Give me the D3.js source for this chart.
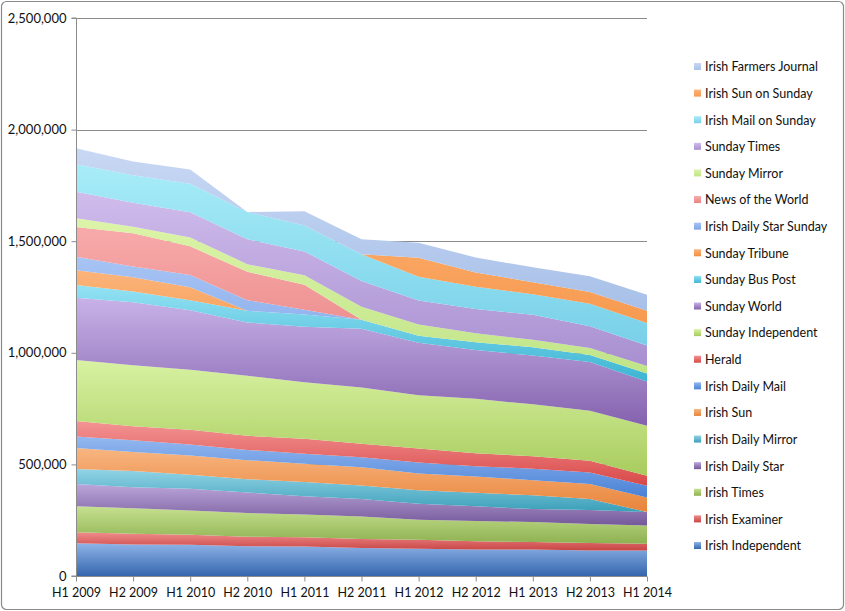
<!DOCTYPE html>
<html>
<head>
<meta charset="utf-8">
<script src="https://cdn.jsdelivr.net/npm/d3@7/dist/d3.min.js"></script>
<style>
  html, body { margin: 0; padding: 0; background: #fff; }
  svg text { font-family: Lato, "Open Sans", sans-serif; fill: #111; }
</style>
</head>
<body>
<svg id="chart" width="845" height="611"></svg>
<script>
// ---- data (circulation, copies) ----
const periods = ["H1 2009","H2 2009","H1 2010","H2 2010","H1 2011","H2 2011","H1 2012","H2 2012","H1 2013","H2 2013","H1 2014"];
const seriesNames = ["Irish Independent","Irish Examiner","Irish Times","Irish Daily Star","Irish Daily Mirror","Irish Sun","Irish Daily Mail","Herald","Sunday Independent","Sunday World","Sunday Bus Post","Sunday Tribune","Irish Daily Star Sunday","News of the World","Sunday Mirror","Sunday Times","Irish Mail on Sunday","Irish Sun on Sunday","Irish Farmers Journal"];
const irishIndependent   = [147000,141000,140000,133000,132000,126000,122000,119000,119000,114000,114000];
const irishExaminer      = [49000,48000,45000,43000,42000,40000,40000,37000,33000,34000,30000];
const irishTimes         = [116000,115000,109000,106000,102000,101000,90000,90000,90000,85000,82000];
const irishDailyStar     = [100000,94000,97000,92000,81000,78000,72000,66000,58000,63000,61000];
const irishDailyMirror   = [67000,72000,63000,60000,64000,60000,60000,61000,62000,49000,0];
const irishSun           = [94000,86000,86000,85000,82000,82000,75000,73000,67000,67000,65000];
const irishDailyMail     = [52000,52000,49000,46000,45000,45000,49000,46000,52000,52000,52000];
const herald             = [70000,63000,66000,63000,67000,60000,63000,58000,55000,52000,45000];
const sundayIndependent  = [273000,273000,269000,269000,253000,253000,239000,244000,233000,224000,224000];
const sundayWorld        = [279000,282000,267000,239000,249000,263000,235000,218000,219000,219000,198000];
const sundayBusPost      = [57000,49000,45000,52000,55000,40000,31000,35000,37000,31000,36000];
const sundayTribune      = [66000,64000,58000,0,0,0,0,0,0,0,0];
const irishDailyStarSun  = [60000,48000,55000,48000,21000,0,0,0,0,0,0];
const newsOfTheWorld     = [134000,149000,128000,127000,112000,0,0,0,0,0,0];
const sundayMirror       = [39000,29000,40000,34000,42000,58000,51000,41000,33000,31000,34000];
const sundayTimes        = [119000,107000,113000,112000,107000,116000,107000,108000,113000,98000,92000];
const irishMailOnSunday  = [123000,124000,127000,122000,116000,120000,107000,100000,91000,101000,100000];
const irishSunOnSunday   = [0,0,0,0,0,0,85000,64000,54000,52000,55000];
const irishFarmersJournal= [72000,61000,64000,0,64000,67000,67000,67000,67000,71000,72000];
const yTicks = [0,500000,1000000,1500000,2000000,2500000];

const seriesValues = [irishIndependent, irishExaminer, irishTimes, irishDailyStar, irishDailyMirror, irishSun, irishDailyMail, herald, sundayIndependent, sundayWorld, sundayBusPost, sundayTribune, irishDailyStarSun, newsOfTheWorld, sundayMirror, sundayTimes, irishMailOnSunday, irishSunOnSunday, irishFarmersJournal];

// gradient colours (top, bottom) per series
const colors = [
  ["#8fb4e8","#3566ad"],["#f08c8c","#c84444"],["#c6e090","#8db150"],["#bba6da","#745899"],
  ["#92d3e6","#3a9fb8"],["#f8b580","#e8843a"],["#94b8f0","#4a82d6"],["#f49494","#d84848"],
  ["#d8f2a2","#a8cc5e"],["#c8b2e8","#8462ae"],["#94e2f4","#3cb4d2"],["#fcb47a","#f09040"],
  ["#a8c4f4","#7fa6e8"],["#f8aaaa","#e88484"],["#dcf4a8","#c0e488"],["#d0bcec","#a890d0"],
  ["#a8ecf8","#78d0e8"],["#fcb478","#f79a50"],["#c8d8f4","#a8c0e8"]
];

const table = periods.map((p, i) => {
  const row = {period: p};
  seriesNames.forEach((n, j) => row[n] = seriesValues[j][i]);
  return row;
});

const svg = d3.select("#chart");
const W = 845, H = 611;

// outer border
svg.append("rect").attr("x", 1.5).attr("y", 1.5).attr("width", W - 3).attr("height", H - 3)
  .attr("rx", 5).attr("fill", "#fff").attr("stroke", "#8a8a8a").attr("stroke-width", 1.2);

const x = d3.scalePoint().domain(periods).range([76, 647]);
const y = d3.scaleLinear().domain([0, 2500000]).range([576, 18]);

const defs = svg.append("defs");
colors.forEach((c, i) => {
  const g = defs.append("linearGradient").attr("id", "g" + i)
    .attr("x1", 0).attr("y1", 0).attr("x2", 0).attr("y2", 1);
  g.append("stop").attr("offset", "0%").attr("stop-color", c[0]);
  g.append("stop").attr("offset", "100%").attr("stop-color", c[1]);
});

// gridlines
svg.append("g").selectAll("line").data(yTicks.filter(d => d > 0)).join("line")
  .attr("x1", 76).attr("x2", 647)
  .attr("y1", d => Math.round(y(d)) + 0.5).attr("y2", d => Math.round(y(d)) + 0.5)
  .attr("stroke", "#8c8c8c").attr("stroke-width", 1);

// stacked areas
const stack = d3.stack().keys(seriesNames);
const layers = stack(table);
const area = d3.area()
  .x(d => x(d.data.period))
  .y0(d => y(d[0]))
  .y1(d => y(d[1]));
svg.append("g").selectAll("path").data(layers).join("path")
  .attr("d", area)
  .attr("fill", (d, i) => `url(#g${i})`);

// y axis
const yAxis = d3.axisLeft(y).tickValues(yTicks).tickSize(5).tickPadding(5)
  .tickFormat(d => d3.format(",")(d));
const yg = svg.append("g").attr("transform", "translate(76.5,0)").call(yAxis);
yg.selectAll("path, line").attr("stroke", "#8c8c8c");
yg.select(".domain").attr("d", `M-5,${y(2500000)}H0V${y(0)}H-5`);
yg.selectAll("text").style("font-size", "13px").attr("fill", "#111");

// x axis
const xAxis = d3.axisBottom(x).tickSize(5).tickPadding(7);
const xg = svg.append("g").attr("transform", "translate(0,576.5)").call(xAxis);
xg.selectAll("path, line").attr("stroke", "#8c8c8c");
xg.select(".domain").attr("d", `M76,0H647`);
xg.selectAll("text").style("font-size", "12.5px").attr("fill", "#111");

// legend (reverse order, top = last series)
const legendOrder = seriesNames.map((n, i) => i).reverse();
const lg = svg.append("g");
const legendY = d3.scalePoint().domain(legendOrder).range([67, 546]);
legendOrder.forEach(i => {
  const ly = legendY(i);
  lg.append("rect").attr("x", 694).attr("y", ly - 4).attr("width", 7).attr("height", 7)
    .attr("fill", `url(#g${i})`);
  lg.append("text").attr("x", 705).attr("y", ly).attr("dy", "0.35em")
    .style("font-size", "12.5px").text(seriesNames[i]);
});
</script>
</body>
</html>
